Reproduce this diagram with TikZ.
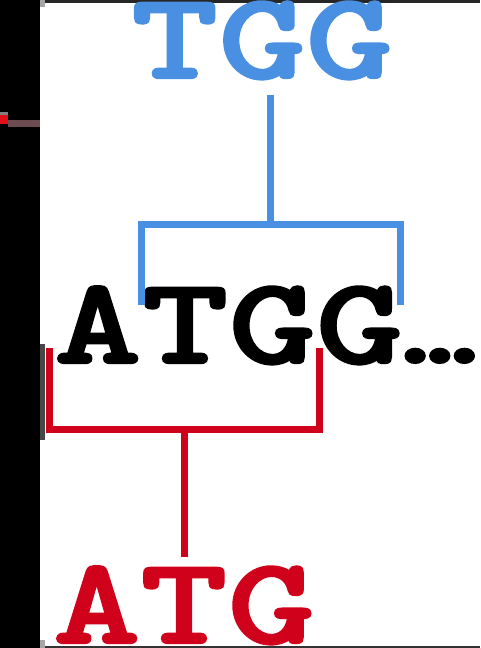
\documentclass[tikz,border=0pt]{standalone}
\usepackage{fontspec}
\newfontfamily\dnafont{lmmonolt10-bold.otf}[FakeStretch=1.35,FakeBold=2]
\definecolor{dnablue}{HTML}{4A90E2}
\definecolor{dnared}{HTML}{D0021B}
\definecolor{tickbrown}{HTML}{6B4A50}
\definecolor{tickred}{HTML}{E0101B}
\begin{document}
\begin{tikzpicture}[x=1pt,y=-1pt,
  seq/.style={font=\fontsize{123}{123}\dnafont, inner sep=0pt, anchor=base west,
    text height=72pt, text depth=0pt},
  bracket/.style={line width=7pt, line join=miter, line cap=butt}]
\useasboundingbox (0,0) rectangle (480,648);
\fill[white] (0,0) rectangle (480,648);
% frame remnants
\fill[black] (0,0) rectangle (40,648);
\fill[black!85] (40,0) rectangle (480,3);
\fill[black!80] (40,646) rectangle (480,648);
\fill[gray!70] (40,0) rectangle (45,7);
\fill[gray!70] (40,640) rectangle (45,648);
\fill[black!72] (40,344) rectangle (45,440);
\fill[gray] (0,112) rectangle (8,115);
\fill[tickred] (0,115) rectangle (8,124);
\fill[tickbrown] (8,120) rectangle (40,127);
% sequences
\node[seq, text=dnablue] (tgg) at (131,78) {TGG};
\node[seq, text=black] (atgg) at (54,363) {ATGG\rlap{\fontsize{104}{104}\selectfont…}};
\node[seq, text=dnared] (atg) at (53,643) {ATG};
% blue bracket
\coordinate (bstem) at (270,95);
\coordinate (bjoin) at (270,224);
\coordinate (bl) at (141,305);
\coordinate (br) at (400,305);
\draw[bracket, dnablue] (bstem) -- (bjoin);
\draw[bracket, dnablue] (bl) -- (bl |- bjoin) -- (br |- bjoin) -- (br);
% red bracket
\coordinate (rl) at (49,348);
\coordinate (rr) at (319,348);
\coordinate (rjoin) at (184,429);
\coordinate (rstem) at (184,557);
\draw[bracket, dnared] (rl) -- (rl |- rjoin) -- (rr |- rjoin) -- (rr);
\draw[bracket, dnared] (rjoin) -- (rstem);
\end{tikzpicture}
\end{document}
